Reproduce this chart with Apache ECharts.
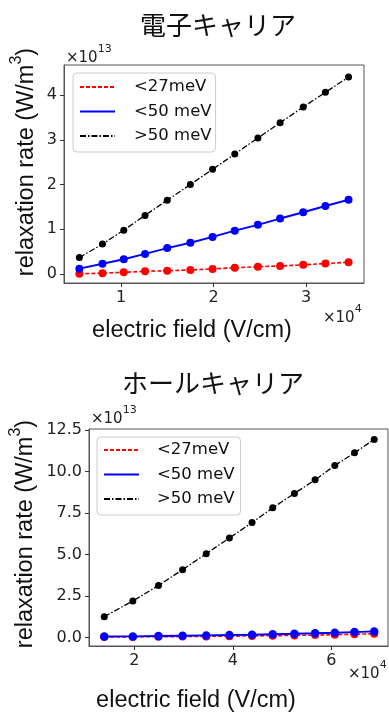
<!DOCTYPE html>
<html>
<head>
<meta charset="utf-8">
<script src="https://cdn.jsdelivr.net/npm/echarts@6/dist/echarts.min.js"></script>
<style>
  html, body { margin: 0; padding: 0; background: #fff; }
  #chart { width: 389px; height: 716px; }
</style>
</head>
<body>
<div id="chart"></div>
<script>
// Electron carriers (x in units of 1e4 V/cm, y in units of 1e13 W/m^3)
const elecField = [0.55, 0.80, 1.03, 1.26, 1.50, 1.75, 1.99, 2.23, 2.48, 2.72, 2.97, 3.21, 3.46];
const elecBelow27 = [0.005, 0.02, 0.04, 0.06, 0.075, 0.09, 0.115, 0.14, 0.165, 0.18, 0.205, 0.235, 0.265];
const elecBelow50 = [0.12, 0.23, 0.33, 0.45, 0.58, 0.70, 0.83, 0.97, 1.10, 1.24, 1.38, 1.52, 1.66];
const elecAbove50 = [0.37, 0.67, 0.98, 1.31, 1.65, 2.00, 2.34, 2.68, 3.04, 3.38, 3.73, 4.06, 4.40];

// Hole carriers
const holeField = [1.39, 1.97, 2.49, 2.98, 3.46, 3.93, 4.39, 4.81, 5.25, 5.67, 6.07, 6.47, 6.87];
const holeBelow27 = [0.02, 0.03, 0.04, 0.05, 0.06, 0.07, 0.09, 0.10, 0.12, 0.14, 0.16, 0.19, 0.22];
const holeBelow50 = [0.05, 0.06, 0.08, 0.10, 0.12, 0.14, 0.16, 0.19, 0.22, 0.25, 0.28, 0.32, 0.36];
const holeAbove50 = [1.25, 2.20, 3.13, 4.09, 5.05, 6.00, 6.93, 7.82, 8.69, 9.51, 10.38, 11.14, 11.95];

const seriesNames = ['<27meV', '<50 meV', '>50 meV'];

// Tick positions
const elecXTicks = [1, 2, 3];
const elecYTicks = [0, 1, 2, 3, 4];
const holeXTicks = [2, 4, 6];
const holeYTicks = [0, 2.5, 5, 7.5, 10, 12.5];

const tickFont = { fontFamily: 'DejaVu Sans', fontSize: 16, color: '#222' };
const labelFont = 'Liberation Sans';

function pairs(xs, ys) { return xs.map((x, i) => [x, ys[i]]); }

function makeX(idx, min, max, ticks) {
  return {
    type: 'value', gridIndex: idx, min: min, max: max,
    axisLine: { show: true, onZero: false, lineStyle: { color: '#555', width: 1 } },
    axisTick: { show: true, length: 4, customValues: ticks, lineStyle: { color: '#333' } },
    axisLabel: Object.assign({ customValues: ticks, margin: 7 }, tickFont),
    splitLine: { show: false }
  };
}
function makeY(idx, min, max, ticks, fmt) {
  return {
    type: 'value', gridIndex: idx, min: min, max: max,
    axisLine: { show: true, onZero: false, lineStyle: { color: '#555', width: 1 } },
    axisTick: { show: true, length: 4, customValues: ticks, lineStyle: { color: '#333' } },
    axisLabel: Object.assign({ customValues: ticks, margin: 7, formatter: fmt }, tickFont),
    splitLine: { show: false }
  };
}

function lineSeries(name, idx, data, color, dash, width, size) {
  return {
    name: name, type: 'line', xAxisIndex: idx, yAxisIndex: idx,
    data: data, symbol: 'circle', symbolSize: size, showAllSymbol: true,
    itemStyle: { color: color },
    lineStyle: { color: color, type: dash, width: width },
    animation: false
  };
}

const redDash = [4, 2];
const blackDashDot = [6, 2, 1.5, 2];

function legendFor(idx, left, top, pad, textPad) {
  return {
    show: true, orient: 'vertical', left: left, top: top,
    data: seriesNames,
    itemWidth: 35, itemHeight: 18, itemGap: 6.5,
    padding: pad,
    backgroundColor: 'rgba(255,255,255,0.85)',
    borderColor: '#ccc', borderWidth: 1, borderRadius: 4,
    itemStyle: { opacity: 0 },
    textStyle: { fontFamily: 'DejaVu Sans', fontSize: 16.5, color: '#111', lineHeight: 18, padding: [0, 0, 0, textPad] },
    selectedMode: false
  };
}

function sup(x, y, base, exp) {
  return {
    type: 'text', left: x, top: y,
    style: {
      text: '{a|' + base + '}{b|' + exp + '}',
      rich: {
        a: { fontFamily: 'DejaVu Sans', fontSize: 15, lineHeight: 22, verticalAlign: 'bottom', fill: '#222' },
        b: { fontFamily: 'DejaVu Sans', fontSize: 11, lineHeight: 11, verticalAlign: 'top', fill: '#222' }
      }
    }
  };
}

function centeredText(x, y, text, font, size, rotation) {
  return {
    type: 'text', x: x, y: y, rotation: rotation || 0,
    style: { text: text, fontFamily: font, fontSize: size, fill: '#111', align: 'center', verticalAlign: 'middle' }
  };
}

// Rotated y-axis title with a raised exponent on the unit
function yTitle(x, y) {
  return {
    type: 'text', x: x, y: y, rotation: Math.PI / 2,
    style: {
      text: '{a|relaxation rate (W/m}{s|3}{a|)}',
      align: 'center', verticalAlign: 'middle',
      rich: {
        a: { fontFamily: labelFont, fontSize: 23.5, lineHeight: 30, verticalAlign: 'bottom', fill: '#111' },
        s: { fontFamily: labelFont, fontSize: 16, lineHeight: 20, verticalAlign: 'top', fill: '#111' }
      }
    }
  };
}

const chart = echarts.init(document.getElementById('chart'), null, { renderer: 'canvas' });
chart.setOption({
  backgroundColor: '#fff',
  animation: false,
  grid: [
    { left: 64, top: 65, width: 300, height: 218, show: true, borderColor: '#555', borderWidth: 1, backgroundColor: 'transparent' },
    { left: 89, top: 429, width: 299, height: 217, show: true, borderColor: '#555', borderWidth: 1, backgroundColor: 'transparent' }
  ],
  xAxis: [
    makeX(0, 0.384, 3.627, elecXTicks),
    makeX(1, 1.08, 7.15, holeXTicks)
  ],
  yAxis: [
    makeY(0, -0.2, 4.67, elecYTicks, v => String(v)),
    makeY(1, -0.52, 12.58, holeYTicks, v => v.toFixed(1))
  ],
  legend: [
    legendFor(0, 73, 73, [5, 4, 7, 6], 14),
    legendFor(1, 97, 437, [4, 6, 7, 6], 13)
  ],
  series: [
    lineSeries(seriesNames[0], 0, pairs(elecField, elecBelow27), '#ff0000', redDash, 1.6, 8),
    lineSeries(seriesNames[1], 0, pairs(elecField, elecBelow50), '#0000ff', 'solid', 1.9, 8),
    lineSeries(seriesNames[2], 0, pairs(elecField, elecAbove50), '#000000', blackDashDot, 1.3, 7),
    lineSeries(seriesNames[0], 1, pairs(holeField, holeBelow27), '#ff0000', redDash, 1.6, 8),
    lineSeries(seriesNames[1], 1, pairs(holeField, holeBelow50), '#0000ff', 'solid', 1.9, 8.5),
    lineSeries(seriesNames[2], 1, pairs(holeField, holeAbove50), '#000000', blackDashDot, 1.3, 7)
  ],
  graphic: [
    centeredText(218, 25, '電子キャリア', 'Noto Sans CJK JP', 26),
    centeredText(213, 383, 'ホールキャリア', 'Noto Sans CJK JP', 26),
    yTitle(24, 162),
    yTitle(23, 534),
    centeredText(192, 331, 'electric field (V/cm)', labelFont, 23.5),
    centeredText(196, 701, 'electric field (V/cm)', labelFont, 23.5),
    sup(66, 44, '×10', '13'),
    sup(91, 405, '×10', '13'),
    sup(323, 304, '×10', '4'),
    sup(348, 660, '×10', '4')
  ]
});
</script>
</body>
</html>
